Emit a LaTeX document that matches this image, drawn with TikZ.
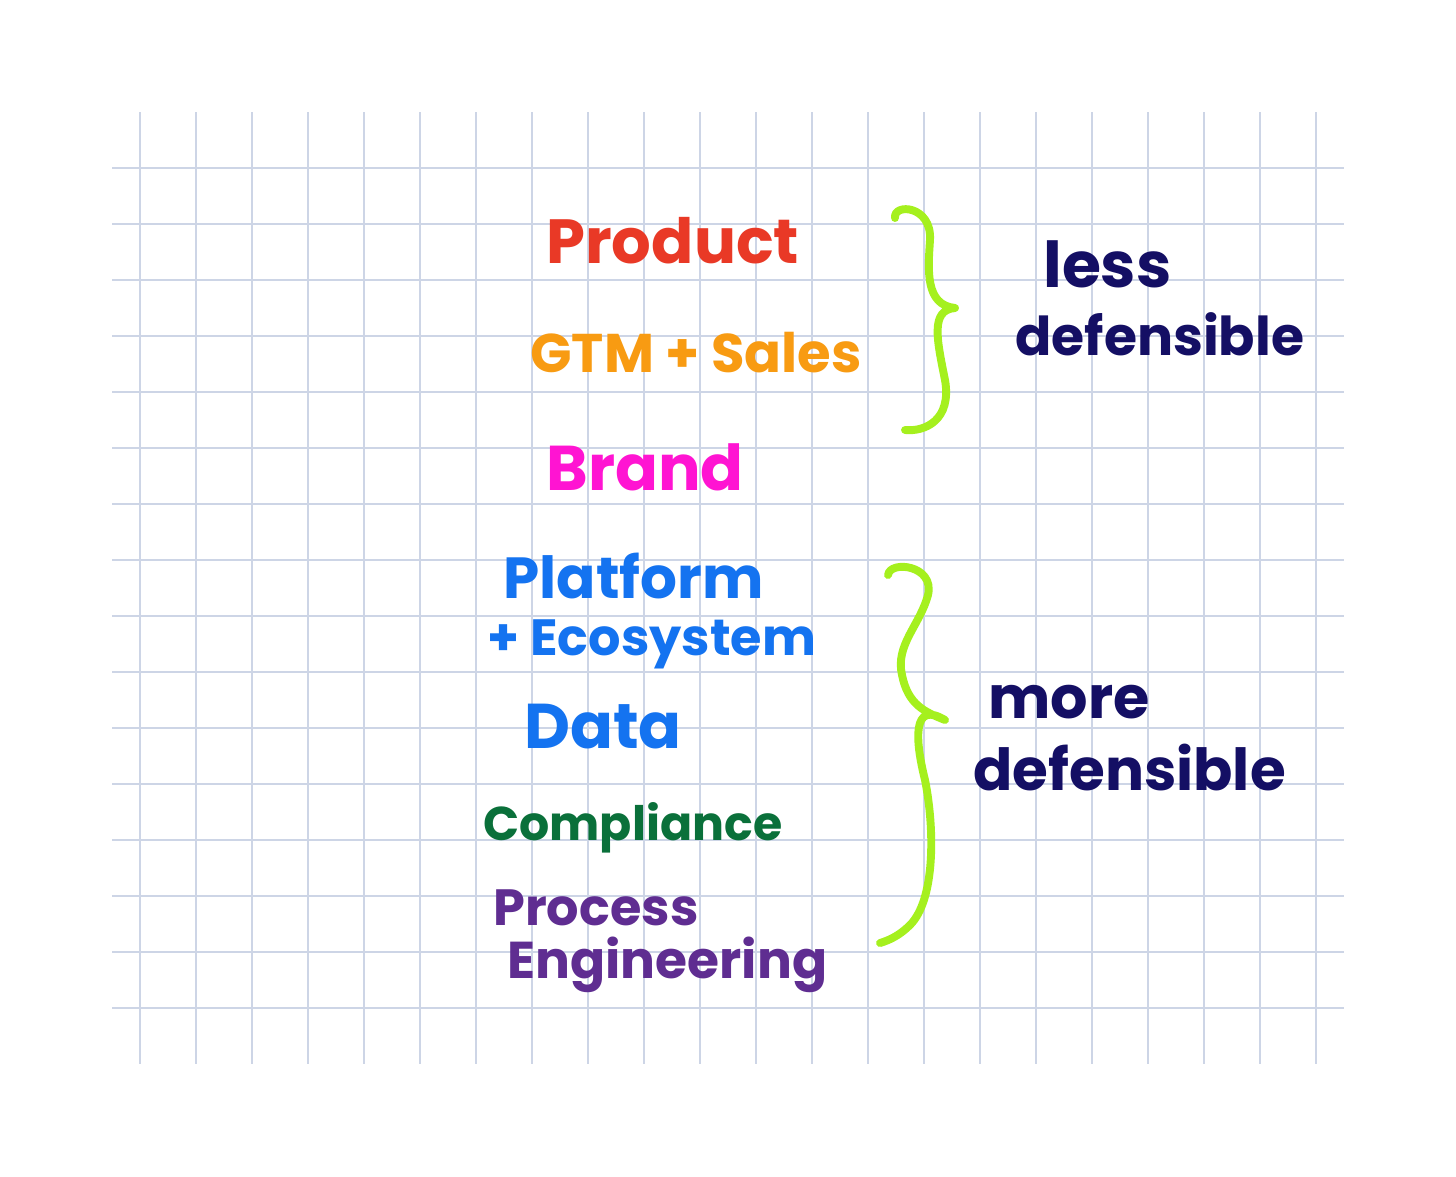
\documentclass[tikz,border=0pt]{standalone}
\usepackage{fontspec}
\setmainfont{Poppins}
\usepackage{tikz}

\definecolor{gridline}{RGB}{205,213,230}
\definecolor{prodred}{RGB}{233,57,38}
\definecolor{gtmorange}{RGB}{248,155,18}
\definecolor{brandpink}{RGB}{255,20,210}
\definecolor{platblue}{RGB}{20,115,240}
\definecolor{compgreen}{RGB}{10,112,58}
\definecolor{procpurple}{RGB}{95,45,145}
\definecolor{notenavy}{RGB}{20,15,100}
\definecolor{bracelime}{RGB}{165,240,30}

\tikzset{
  hand/.style={font=\bfseries\fontsize{#1}{#1}\selectfont, inner sep=0pt, anchor=base west},
  brace/.style={draw=bracelime, line width=4.5pt, line cap=round, line join=round}
}

\begin{document}
\begin{tikzpicture}[x=0.02cm,y=-0.02cm]
				\useasboundingbox (0,0) rectangle (1456,1176);
				\fill[white] (0,0) rectangle (1456,1176);
				% grid paper
				\foreach \x in {140,196,...,1316}
					\draw[gridline,line width=1.1pt] (\x,112) -- (\x,1064);
				\foreach \y in {168,224,...,1008}
					\draw[gridline,line width=1.1pt] (112,\y) -- (1344,\y);
				% left column
				\node[hand=35.5,prodred] (product) at (546,263) {Product};
				\node[hand=31,gtmorange] (gtm) at (530,372) {GTM + Sales};
				\node[hand=36,brandpink] (brand) at (546,490) {Brand};
				\node[hand=33,platblue] (platform) at (503,598) {Platform};
				\node[hand=29,platblue] (ecosystem) at (487,655) {+ Ecosystem};
				\node[hand=36,platblue] (data) at (524,748) {Data};
				\node[hand=27,compgreen] (compliance) at (483,840) {Compliance};
				\node[hand=29,procpurple] (process) at (493,925) {Process};
				\node[hand=29.5,procpurple] (engineering) at (507,978) {Engineering};
				% braces
				\draw[brace] (895,218) .. controls (893,203) and (932,205) .. (930,240)
					.. controls (928,270) and (925,305) .. (955,308)
					.. controls (930,310) and (937,340) .. (945,380)
					.. controls (952,420) and (925,432) .. (905,430);
				\draw[brace] (888,575) .. controls (890,560) and (935,565) .. (928,595)
					.. controls (920,625) and (895,645) .. (902,675)
					.. controls (908,705) and (925,712) .. (945,720)
					.. controls (912,700) and (915,740) .. (925,780)
					.. controls (935,830) and (935,900) .. (910,925)
					.. controls (900,935) and (890,940) .. (880,943);
				% right notes
				\node[hand=36,notenavy] (less) at (1043,287) {less};
				\node[hand=30.5,notenavy] (lessdef) at (1015,355) {defensible};
				\node[hand=33.5,notenavy] (more) at (988,718) {more};
				\node[hand=33,notenavy] (moredef) at (973,790) {defensible};
			\end{tikzpicture}
\end{document}
